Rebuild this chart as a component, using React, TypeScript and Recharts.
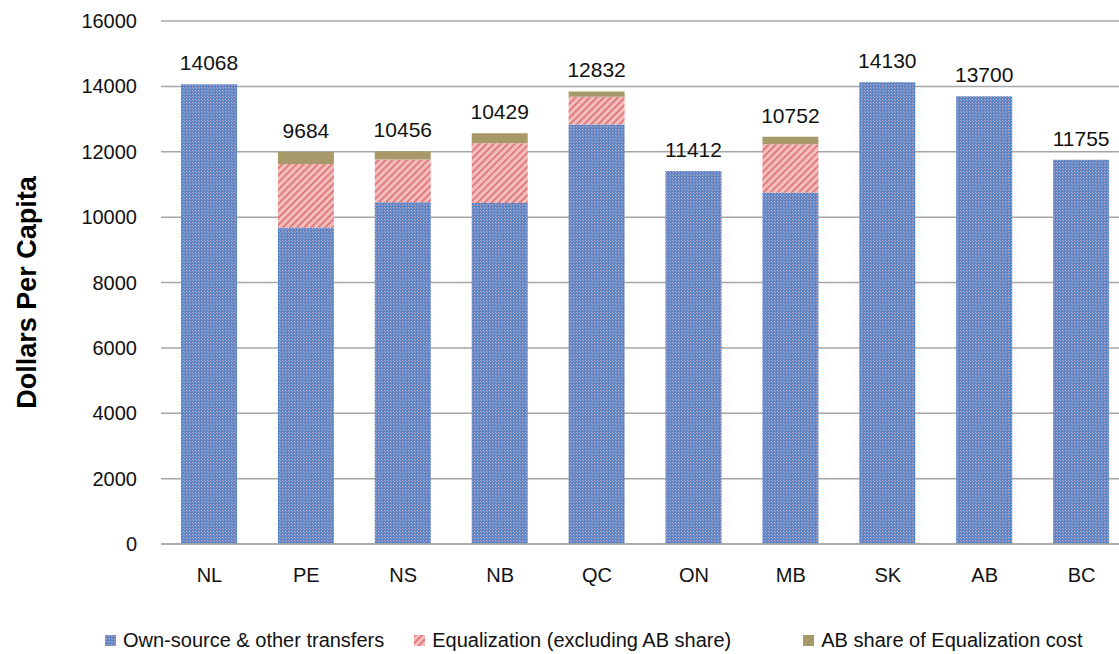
import { BarChart, Bar, XAxis, YAxis, CartesianGrid, Legend, LabelList } from 'recharts'

const categories = ['NL', 'PE', 'NS', 'NB', 'QC', 'ON', 'MB', 'SK', 'AB', 'BC']
const ownSource = [14068, 9684, 10456, 10429, 12832, 11412, 10752, 14130, 13700, 11755]
const equalization = [0, 1938, 1310, 1829, 853, 0, 1476, 0, 0, 0]
const abShare = [0, 378, 244, 308, 162, 0, 234, 0, 0, 0]
const yTicks = [0, 2000, 4000, 6000, 8000, 10000, 12000, 14000, 16000]

const data = categories.map((name, i) => ({
    name,
    own: ownSource[i],
    eq: equalization[i],
    ab: abShare[i],
}))

const FONT = '"Liberation Sans", Arial, sans-serif'

const legendItems = [
    { label: 'Own-source & other transfers', fill: 'url(#ownPat)', gap: 0 },
    { label: 'Equalization (excluding AB share)', fill: 'url(#eqPat)', gap: 30 },
    { label: 'AB share of Equalization cost', fill: '#A8996A', gap: 72 },
]

function Patterns() {
    return (
        <svg width={0} height={0} style={{ position: 'absolute' }}>
            <defs>
                <pattern id="ownPat" width={3} height={3} patternUnits="userSpaceOnUse">
                    <rect width={3} height={3} fill="#5C85C8" />
                    <rect x={0} y={0} width={1} height={1} fill="#D2A9B6" />
                    <rect x={1} y={1} width={1} height={1} fill="#A8A6C6" />
                </pattern>
                <pattern id="eqPat" width={5} height={5} patternUnits="userSpaceOnUse" patternTransform="rotate(45)">
                    <rect width={5} height={5} fill="#F4BDBD" />
                    <rect x={0} y={0} width={1.6} height={5} fill="#DC6E6E" />
                </pattern>
            </defs>
        </svg>
    )
}

// label sits on the own-source bar, lifted to the top of the whole stack
function TopLabel(props: any) {
    const { x, y, width, height, value } = props
    const i = categories.indexOf(value)
    const perUnit = height / ownSource[i]
    const top = y - (equalization[i] + abShare[i]) * perUnit
    return (
        <text x={x + width / 2} y={top - 14} textAnchor="middle" fontSize={21} fill="#111" fontFamily={FONT}>
            {ownSource[i]}
        </text>
    )
}

function YLabel(props: any) {
    const { viewBox } = props
    const cx = 36
    const cy = viewBox.y + viewBox.height / 2 + 10
    return (
        <text
            x={cx}
            y={cy}
            transform={`rotate(-90 ${cx} ${cy})`}
            textAnchor="middle"
            fontSize={27}
            fontWeight={700}
            fill="#000"
            fontFamily={FONT}
        >
            Dollars Per Capita
        </text>
    )
}

function LegendContent() {
    return (
        <div style={{ display: 'flex', alignItems: 'center', height: 54, paddingTop: 26, boxSizing: 'border-box', paddingLeft: 105, fontFamily: FONT, fontSize: 20, color: '#111' }}>
            {legendItems.map((it) => (
                <div key={it.label} style={{ display: 'flex', alignItems: 'center', marginLeft: it.gap }}>
                    <svg width={11} height={11} style={{ marginRight: 7 }}>
                        <rect width={11} height={11} fill={it.fill} />
                    </svg>
                    <span>{it.label}</span>
                </div>
            ))}
        </div>
    )
}

const tickStyle = { fontSize: 20, fill: '#111', fontFamily: FONT }

export default function App() {
    return (
        <div style={{ position: 'absolute', left: 0, top: 0, width: 1119, height: 654, overflow: 'hidden', background: '#fff' }}>
            <Patterns />
            <BarChart
                width={1140}
                height={654}
                data={data}
                margin={{ top: 21, right: 10, bottom: 0, left: 0 }}
                barSize={56}
            >
                <CartesianGrid vertical={false} stroke="#A6A6A6" strokeWidth={1.5} />
                <XAxis
                    dataKey="name"
                    axisLine={{ stroke: '#A6A6A6', strokeWidth: 1.5 }}
                    tickLine={false}
                    tickSize={0}
                    tickMargin={24}
                    height={56}
                    tick={tickStyle}
                />
                <YAxis
                    width={161}
                    domain={[0, 16000]}
                    ticks={yTicks}
                    axisLine={false}
                    tickLine={false}
                    tickSize={0}
                    tickMargin={24}
                    tick={tickStyle}
                    label={<YLabel />}
                />
                <Legend verticalAlign="bottom" height={54} content={<LegendContent />} />
                <Bar dataKey="own" stackId="a" fill="url(#ownPat)" isAnimationActive={false}>
                    <LabelList dataKey="name" content={<TopLabel />} />
                </Bar>
                <Bar dataKey="eq" stackId="a" fill="url(#eqPat)" isAnimationActive={false} />
                <Bar dataKey="ab" stackId="a" fill="#A8996A" isAnimationActive={false} />
            </BarChart>
        </div>
    )
}
